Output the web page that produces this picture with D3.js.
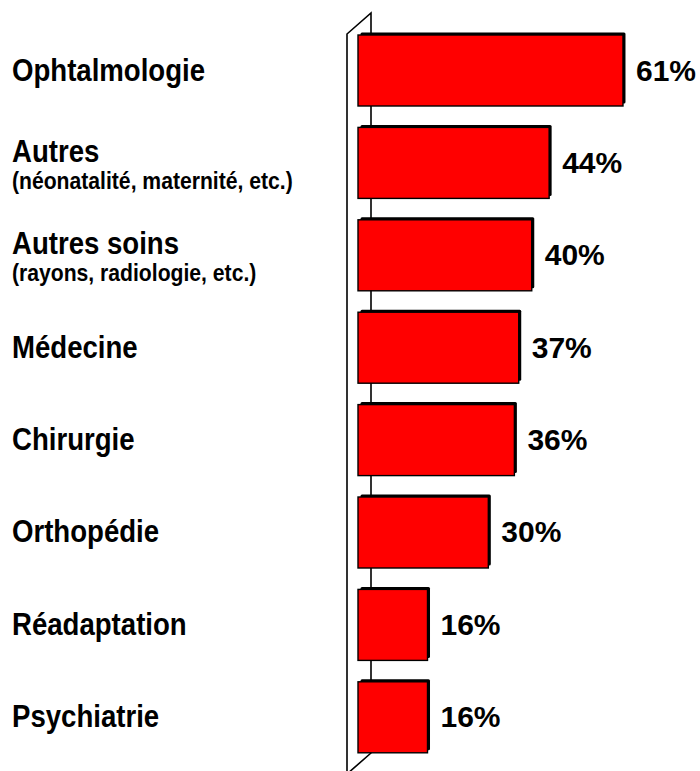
<!DOCTYPE html>
<html>
<head>
<meta charset="utf-8">
<script src="https://cdn.jsdelivr.net/npm/d3@7"></script>
<style>
  html, body { margin: 0; padding: 0; background: #fff; }
  svg { display: block; }
</style>
</head>
<body>
<svg id="chart" width="700" height="771"></svg>
<script>
// Share of respondents by hospital department
const categories = ["Ophtalmologie", "Autres", "Autres soins", "Médecine", "Chirurgie", "Orthopédie", "Réadaptation", "Psychiatrie"];
const subtitles  = ["", "(néonatalité, maternité, etc.)", "(rayons, radiologie, etc.)", "", "", "", "", ""];
const values     = [61, 44, 40, 37, 36, 30, 16, 16];

const svg = d3.select("#chart");

const x = d3.scaleLinear().domain([0, 100]).range([358, 792.4]);
const y = d3.scaleBand().domain(categories).range([35, 752.8]).paddingInner(0.2316).paddingOuter(0);

const rows = categories.map((c, i) => ({ cat: c, sub: subtitles[i], val: values[i] }));

// Wall-style axis: two vertical edges joined by slanted ends
const wall = svg.append("g").attr("fill", "none").attr("stroke", "#000").attr("stroke-width", 1.6);
wall.append("path").attr("d", "M347,774 L347,34 L371,13 L371,753 L347,774");

const font = "'Liberation Sans', Arial, sans-serif";

// Bars with a dark offset edge
const bar = svg.append("g").selectAll("g").data(rows).join("g");
bar.append("rect")
  .attr("x", x(0) + 2.5)
  .attr("y", d => y(d.cat) - 2.5)
  .attr("width", d => x(d.val) - x(0))
  .attr("height", y.bandwidth())
  .attr("rx", 1.5)
  .attr("fill", "#000");
bar.append("rect")
  .attr("x", x(0))
  .attr("y", d => y(d.cat))
  .attr("width", d => x(d.val) - x(0))
  .attr("height", y.bandwidth())
  .attr("fill", "#ff0000")
  .attr("stroke", "#000")
  .attr("stroke-width", 1.4);

// Value labels
bar.append("text")
  .attr("x", d => x(d.val) + 13)
  .attr("y", d => y(d.cat) + y.bandwidth() / 2 + 10)
  .attr("font-family", font)
  .attr("font-weight", "bold")
  .attr("font-size", 30)
  .attr("fill", "#000")
  .text(d => d.val + "%");

// Category labels, set in a condensed bold face
const lab = svg.append("g").selectAll("g").data(rows).join("g")
  .attr("font-family", font)
  .attr("font-weight", "bold")
  .attr("fill", "#000");
lab.append("text")
  .attr("transform", d => `translate(12,${y(d.cat) + y.bandwidth() / 2 + (d.sub ? -1 : 10)}) scale(0.89,1)`)
  .attr("font-size", 31)
  .text(d => d.cat);
lab.filter(d => d.sub).append("text")
  .attr("transform", d => `translate(12,${y(d.cat) + y.bandwidth() / 2 + 26}) scale(0.9,1)`)
  .attr("font-size", 23.5)
  .text(d => d.sub);
</script>
</body>
</html>
